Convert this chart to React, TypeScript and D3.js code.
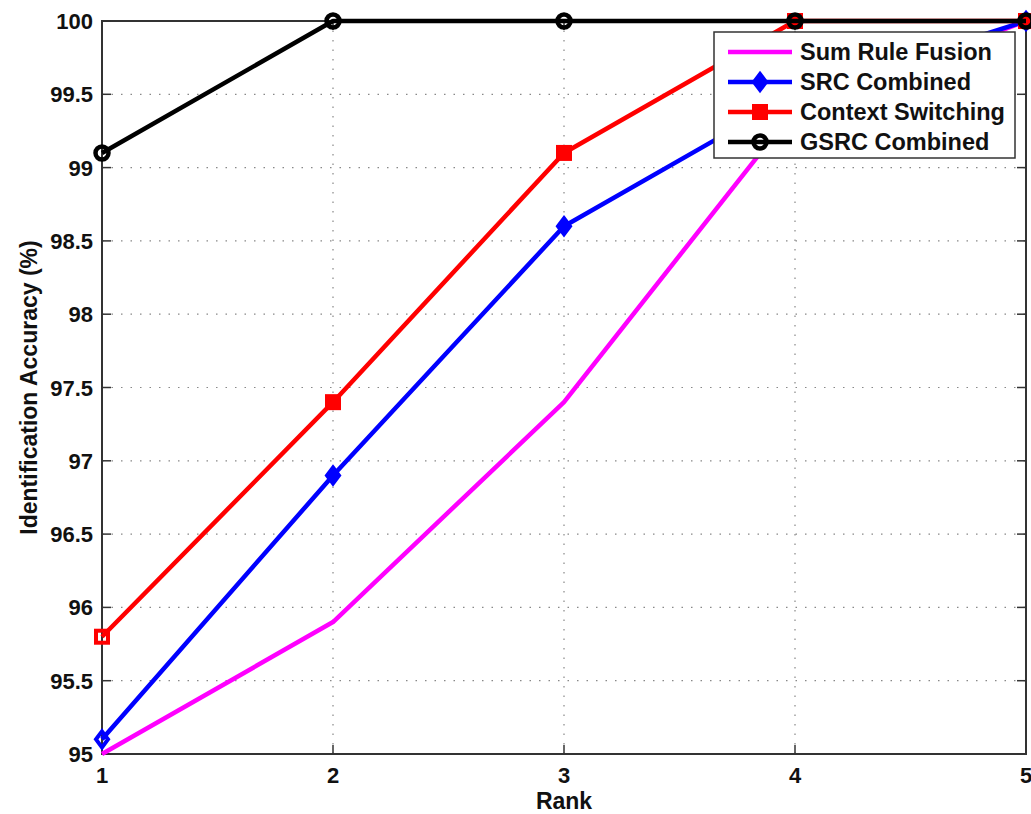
import * as d3 from "d3";

const ranks = [1, 2, 3, 4, 5];
const sumRule = [95.0, 95.9, 97.4, 99.4, 100];
const srcCombined = [95.1, 96.9, 98.6, 99.5, 100];
const contextSwitching = [95.8, 97.4, 99.1, 100, 100];
const gsrcCombined = [99.1, 100, 100, 100, 100];
const yTicks = [95, 95.5, 96, 96.5, 97, 97.5, 98, 98.5, 99, 99.5, 100];
const seriesNames = ["Sum Rule Fusion", "SRC Combined", "Context Switching", "GSRC Combined"];

const W = 1031;
const H = 814;
const left = 102;
const right = 1026;
const top = 21;
const bottom = 754;
const font = "'Liberation Sans', Arial, sans-serif";

type Series = { name: string; values: number[]; color: string; marker: string };

const series: Series[] = [
  { name: seriesNames[0], values: sumRule, color: "#ff00ff", marker: "none" },
  { name: seriesNames[1], values: srcCombined, color: "#0000ff", marker: "diamond" },
  { name: seriesNames[2], values: contextSwitching, color: "#ff0000", marker: "square" },
  { name: seriesNames[3], values: gsrcCombined, color: "#000000", marker: "circle" },
];

function Marker({ kind, x, y, color, filled }: { kind: string; x: number; y: number; color: string; filled: boolean }) {
  const fill = filled ? color : "none";
  if (kind === "square")
    return <rect x={x - 6} y={y - 6} width={12} height={12} fill={fill} stroke={color} strokeWidth={4} />;
  if (kind === "diamond")
    return (
      <path
        d={`M${x},${y - 8} L${x + 6},${y} L${x},${y + 8} L${x - 6},${y} Z`}
        fill={fill}
        stroke={color}
        strokeWidth={4}
        strokeLinejoin="miter"
      />
    );
  if (kind === "circle") return <circle cx={x} cy={y} r={6.5} fill="none" stroke={color} strokeWidth={4.5} />;
  return null;
}

export default function App() {
  const x = d3.scaleLinear().domain([1, 5]).range([left, right]);
  const y = d3.scaleLinear().domain([95, 100]).range([bottom, top]);
  const line = d3
    .line<number>()
    .x((_, i) => x(ranks[i]))
    .y((d) => y(d));

  const legX = 714;
  const legY = 32;
  const legW = 301;
  const legH = 126;

  return (
    <svg width={W} height={H} style={{ position: "absolute", left: 0, top: 0 }}>
      <rect width={W} height={H} fill="#fff" />
      {/* grid */}
      {yTicks.slice(1, -1).map((t) => (
        <line key={"gy" + t} x1={left} x2={right} y1={y(t)} y2={y(t)} stroke="#888" strokeWidth={1.2} strokeDasharray="1.5,8" />
      ))}
      {ranks.slice(1, -1).map((r) => (
        <line key={"gx" + r} x1={x(r)} x2={x(r)} y1={top} y2={bottom} stroke="#888" strokeWidth={1.2} strokeDasharray="1.5,8" />
      ))}
      {/* box */}
      <rect x={left} y={top} width={right - left} height={bottom - top} fill="none" stroke="#333" strokeWidth={2} />
      {/* ticks */}
      {yTicks.map((t) => (
        <g key={"ty" + t}>
          <line x1={left} x2={left + 9} y1={y(t)} y2={y(t)} stroke="#333" strokeWidth={1.5} />
          <line x1={right} x2={right - 9} y1={y(t)} y2={y(t)} stroke="#333" strokeWidth={1.5} />
          <text x={left - 9} y={y(t) + 8} textAnchor="end" fontFamily={font} fontWeight="bold" fontSize={22} fill="#111">
            {t}
          </text>
        </g>
      ))}
      {ranks.map((r) => (
        <g key={"tx" + r}>
          <line x1={x(r)} x2={x(r)} y1={bottom} y2={bottom - 9} stroke="#333" strokeWidth={1.5} />
          <line x1={x(r)} x2={x(r)} y1={top} y2={top + 9} stroke="#333" strokeWidth={1.5} />
          <text x={x(r)} y={783} textAnchor="middle" fontFamily={font} fontWeight="bold" fontSize={22} fill="#111">
            {r}
          </text>
        </g>
      ))}
      <text x={564} y={809} textAnchor="middle" fontFamily={font} fontWeight="bold" fontSize={23} fill="#111">
        Rank
      </text>
      <text
        transform={`translate(37,${(top + bottom) / 2}) rotate(-90)`}
        textAnchor="middle"
        fontFamily={font}
        fontWeight="bold"
        fontSize={23}
        fill="#111"
      >
        Identification Accuracy (%)
      </text>
      {/* series */}
      {series.map((s) => (
        <g key={s.name}>
          <path d={line(s.values) || ""} fill="none" stroke={s.color} strokeWidth={4.5} strokeLinejoin="round" />
          {s.values.map((v, i) => (
            <Marker key={i} kind={s.marker} x={x(ranks[i])} y={y(v)} color={s.color} filled={i > 0} />
          ))}
        </g>
      ))}
      {/* legend */}
      <rect x={legX} y={legY} width={legW} height={legH} fill="#fff" stroke="#333" strokeWidth={1.5} />
      {series.map((s, i) => {
        const cy = 52 + i * 30;
        return (
          <g key={"leg" + s.name}>
            <line x1={728} x2={792} y1={cy} y2={cy} stroke={s.color} strokeWidth={4.5} />
            <Marker kind={s.marker} x={760} y={cy} color={s.color} filled={true} />
            <text x={800} y={cy + 8} fontFamily={font} fontWeight="bold" fontSize={23.5} fill="#111">
              {s.name}
            </text>
          </g>
        );
      })}
    </svg>
  );
}
